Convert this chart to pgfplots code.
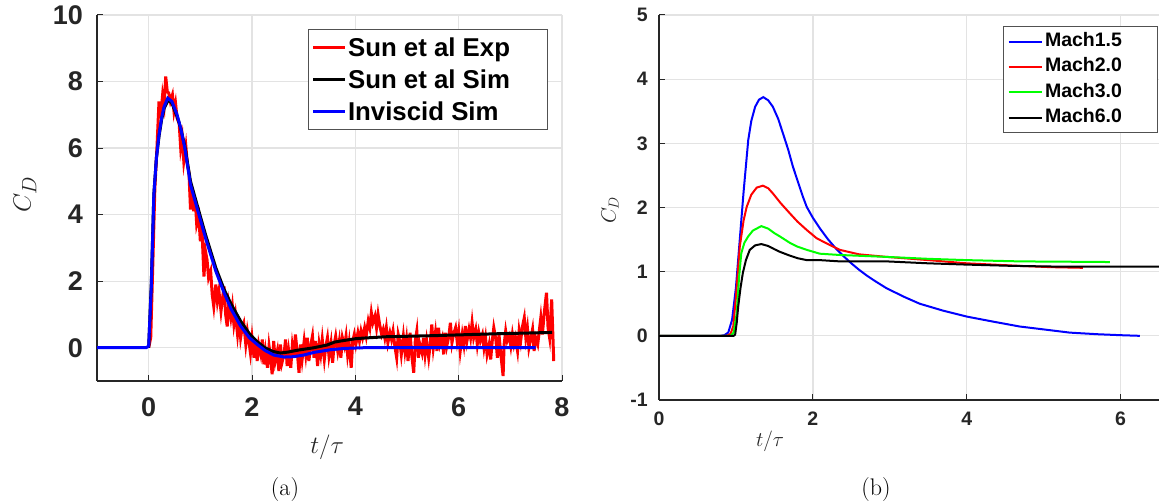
\documentclass[border=0pt]{standalone}
\usepackage{fontspec}
\usepackage{pgfplots}
\pgfplotsset{compat=1.18}
\newfontfamily\arial{Liberation Sans}
\definecolor{axgray}{HTML}{262626}
\definecolor{gridgray}{HTML}{E3E3E3}
\definecolor{lred}{RGB}{255,0,0}
\definecolor{lblue}{RGB}{0,0,255}
\definecolor{lgreen}{RGB}{0,255,0}

\pgfplotsset{
  mystyle/.style={
    scale only axis,
    axis x line*=bottom, axis y line*=left,
    axis line style={axgray, line width=1.2pt, -},
    tick align=inside,
    major tick length=6pt,
    tick style={axgray, line width=1pt},
    grid=major,
    major grid style={gridgray, line width=1.3pt},
    /pgf/number format/assume math mode=true,
    legend cell align=left,
  }
}

\begin{document}
\begin{tikzpicture}[x=1pt,y=1pt]
\useasboundingbox (0,0) rectangle (1159,502);

% ---------------- (a) ----------------
\begin{axis}[
  mystyle,
  at={(97pt,121pt)}, anchor=south west,
  width=465pt, height=366pt,
  xmin=-1, xmax=8, ymin=-1, ymax=10,
  xtick={0,2,4,6,8}, ytick={0,2,4,6,8,10},
  tick label style={font=\arial\bfseries\fontsize{27}{27}\selectfont, color=axgray},
  yticklabel style={inner sep=0pt, xshift=-14pt},
  xticklabel style={inner sep=0pt, yshift=-16pt},
  xlabel={$t/\tau$},
  ylabel={$C_D$},
  xlabel style={font=\fontsize{34}{34}\selectfont, color=axgray, at={(axis description cs:0.495,0)}, anchor=center, yshift=-66pt},
  ylabel style={font=\fontsize{30}{30}\selectfont, color=axgray, at={(axis description cs:-0.1548,0.51)}, anchor=center},
  legend style={at={(axis description cs:0.970,0.962)}, anchor=north east,
    draw=axgray!80, line width=1pt, fill=white,
    font=\arial\bfseries\fontsize{25.8}{28}\selectfont,
    row sep=6pt, inner xsep=3pt, inner ysep=5pt,
    nodes={inner xsep=1.5pt, inner ysep=0pt, text height=22pt, text depth=4pt}},
  legend image code/.code={\draw[#1, line width=3pt] (0pt,0pt) -- (32pt,0pt);},
]
\addplot[lred, line width=3pt] coordinates {
(0,0) (0.04,0.3) (0.08,2.5) (0.12,4.8) (0.16,6.0) (0.2,7.4) (0.23,6.9) (0.27,7.6) (0.3,7.3) (0.33,8.15)
(0.36,7.7) (0.39,7.65) (0.42,7.4) (0.46,7.6) (0.49,7.1) (0.52,7.35) (0.55,6.9) (0.59,6.75) (0.62,6.0) (0.65,6.3)
(0.68,5.6) (0.72,6.05) (0.75,5.5) (0.78,5.25) (0.81,4.15) (0.84,4.8) (0.87,4.1) (0.9,4.5) (0.93,3.7) (0.97,3.95)
(1.0,3.2) (1.03,3.6) (1.07,2.14) (1.1,2.9) (1.13,2.64) (1.16,2.1) (1.2,2.3) (1.23,1.6) (1.26,1.24) (1.3,1.9)
(1.33,1.4) (1.36,1.7) (1.4,1.1) (1.43,1.5) (1.46,1.84) (1.49,1.0) (1.52,0.64) (1.55,1.3) (1.59,0.9) (1.62,1.25)
(1.65,0.7) (1.68,1.0) (1.72,0.4) (1.75,0.85) (1.78,0.3) (1.81,0.6) (1.84,0.74) (1.88,0.1) (1.91,0.5) (1.94,0.2)
(1.97,-0.16) (2.0,0.3) (2.04,-0.3) (2.07,0.2) (2.1,-0.4) (2.13,0.1) (2.17,-0.2) (2.2,0.25) (2.23,-0.5) (2.26,-0.1)
(2.3,-0.6) (2.33,0.05) (2.36,-0.3) (2.39,-0.8) (2.42,0.2) (2.45,-0.4) (2.49,-0.1) (2.52,-0.7) (2.55,0.1) (2.58,-0.45)
(2.62,-0.2) (2.65,0.25) (2.68,-0.55) (2.71,-0.1) (2.75,-0.6) (2.78,0.05) (2.81,-0.3) (2.84,0.4) (2.88,-0.2) (2.91,-0.75)
(2.94,0.1) (2.97,-0.35) (3.01,0.2) (3.04,-0.2) (3.07,0.3) (3.1,-0.4) (3.14,0.1) (3.17,0.35) (3.2,-0.3) (3.23,0.2)
(3.27,-0.55) (3.3,0.1) (3.33,-0.2) (3.36,0.25) (3.4,-0.35) (3.43,0.05) (3.46,0.3) (3.49,-0.25) (3.53,0.15) (3.56,-0.45)
(3.59,0.1) (3.62,0.35) (3.66,-0.1) (3.69,0.2) (3.72,-0.3) (3.75,0.3) (3.79,0.05) (3.82,0.35) (3.85,-0.2) (3.88,0.15)
(3.92,-0.6) (3.95,0.2) (3.98,0.4) (4.01,0.1) (4.05,0.45) (4.08,0.2) (4.11,0.5) (4.14,0.3) (4.18,0.6) (4.21,0.35)
(4.25,0.8) (4.28,0.6) (4.31,1.05) (4.34,0.75) (4.38,0.95) (4.41,0.6) (4.44,1.0) (4.47,0.7) (4.51,0.4) (4.54,0.55)
(4.57,0.3) (4.6,0.6) (4.63,0.15) (4.67,0.45) (4.7,0.25) (4.73,0.5) (4.76,0.1) (4.8,-0.3) (4.83,0.4) (4.86,0.2)
(4.89,-0.2) (4.93,0.35) (4.96,-0.1) (4.99,0.25) (5.02,-0.4) (5.06,0.45) (5.09,-0.2) (5.13,-0.75) (5.16,0.2) (5.19,0.5)
(5.22,-0.3) (5.25,0.1) (5.29,-0.15) (5.32,0.3) (5.35,-0.2) (5.38,0.2) (5.42,-0.3) (5.45,0.1) (5.48,0.7) (5.51,0.0)
(5.55,0.45) (5.58,-0.1) (5.61,0.6) (5.64,0.1) (5.68,0.3) (5.71,-0.2) (5.74,0.45) (5.77,0.05) (5.81,0.35) (5.84,0.75)
(5.87,0.15) (5.9,0.4) (5.94,0.6) (5.97,0.2) (6.0,0.5) (6.03,-0.1) (6.07,0.4) (6.1,0.1) (6.13,0.65) (6.16,0.2)
(6.2,0.55) (6.23,0.3) (6.26,0.75) (6.29,0.3) (6.33,0.55) (6.36,0.1) (6.39,0.45) (6.42,0.2) (6.46,0.4) (6.49,0.0)
(6.52,0.3) (6.55,-0.2) (6.59,0.1) (6.62,-0.35) (6.65,0.2) (6.68,0.6) (6.72,0.25) (6.75,-0.3) (6.78,0.4) (6.81,-0.1)
(6.86,-0.85) (6.88,0.1) (6.91,0.5) (6.94,0.2) (6.98,0.35) (7.01,0.05) (7.04,0.4) (7.07,0.1) (7.1,0.3) (7.14,-0.1)
(7.17,0.5) (7.2,0.2) (7.23,0.6) (7.27,0.9) (7.3,0.3) (7.33,0.6) (7.36,0.0) (7.4,0.3) (7.43,0.55) (7.46,-0.1)
(7.49,0.3) (7.53,0.1) (7.56,0.5) (7.59,0.9) (7.62,0.4) (7.66,1.1) (7.7,1.65) (7.73,0.6) (7.76,0.3) (7.8,1.45) (7.84,-0.4)
};
\addlegendentry{Sun et al Exp\hspace*{33pt}}
\addplot[black, line width=3pt] coordinates {
(0,0) (0.05,1.9) (0.1,4.6) (0.15,5.7) (0.2,6.35) (0.25,6.85) (0.3,7.2) (0.38,7.45) (0.45,7.35) (0.55,6.95)
(0.62,6.6) (0.7,6.05) (0.81,5.0) (0.9,4.5) (1.0,3.95) (1.1,3.4) (1.2,2.9) (1.3,2.4) (1.46,1.75) (1.6,1.3)
(1.78,0.8) (1.95,0.42) (2.1,0.18) (2.25,0.0) (2.4,-0.11) (2.55,-0.16) (2.7,-0.13) (2.9,-0.07) (3.2,0.0) (3.45,0.08)
(3.6,0.17) (3.71,0.2) (4.0,0.27) (4.16,0.29) (4.6,0.33) (5.45,0.36) (6.1,0.39) (6.74,0.42) (7.3,0.44) (7.81,0.46)
};
\addlegendentry{Sun et al Sim}
\addplot[lblue, line width=3pt] coordinates {
(-1,0) (-0.05,0) (0,0.05) (0.05,1.8) (0.1,4.6) (0.15,5.7) (0.2,6.4) (0.25,6.9) (0.3,7.25) (0.37,7.5)
(0.45,7.4) (0.55,7.0) (0.62,6.6) (0.7,6.0) (0.81,4.9) (0.9,4.4) (1.0,3.85) (1.1,3.3) (1.2,2.8) (1.3,2.3)
(1.46,1.65) (1.6,1.15) (1.78,0.65) (1.95,0.3) (2.1,0.1) (2.25,-0.08) (2.42,-0.22) (2.62,-0.28) (2.8,-0.27) (3.0,-0.22)
(3.2,-0.14) (3.52,-0.06) (3.8,-0.02) (4.16,0) (7.49,0)
};
\addlegendentry{Inviscid Sim}
\end{axis}

% ---------------- (b) ----------------
\begin{axis}[
  mystyle,
  at={(659pt,102pt)}, anchor=south west,
  width=500pt, height=385pt,
  xmin=0, xmax=6.5, ymin=-1, ymax=5,
  xtick={0,2,4,6}, ytick={-1,0,1,2,3,4,5},
  tick label style={font=\arial\bfseries\fontsize{19.5}{19.5}\selectfont, color=axgray},
  yticklabel style={inner sep=0pt, xshift=-11pt},
  xticklabel style={inner sep=0pt, yshift=-12pt},
  xlabel={$t/\tau$},
  ylabel={$C_D$},
  xlabel style={font=\fontsize{20}{20}\selectfont, color=axgray, at={(axis description cs:0.222,0)}, anchor=center, yshift=-41pt},
  ylabel style={font=\fontsize{20}{20}\selectfont, color=axgray, at={(axis description cs:-0.098,0.4935)}, anchor=center},
  legend style={at={(axis description cs:0.998,0.971)}, anchor=north east,
    draw=axgray!80, line width=1pt, fill=white,
    font=\arial\bfseries\fontsize{19.5}{21}\selectfont,
    row sep=6.7pt, inner xsep=4pt, inner ysep=6pt,
    nodes={inner xsep=2.5pt, inner ysep=0pt, text height=14pt, text depth=4.5pt}},
  legend image code/.code={\draw[#1, line width=2pt] (0pt,0pt) -- (33pt,0pt);},
]
\addplot[lblue, line width=2pt] coordinates {
(0,0) (0.8,0) (0.85,0.01) (0.9,0.05) (0.95,0.25) (1.0,0.75) (1.05,1.5) (1.1,2.25) (1.16,3.05) (1.2,3.35)
(1.25,3.57) (1.3,3.68) (1.355,3.72) (1.42,3.67) (1.48,3.57) (1.55,3.38) (1.61,3.16) (1.68,2.9) (1.74,2.64) (1.82,2.35)
(1.87,2.17) (1.92,2.01) (2.0,1.84) (2.1,1.66) (2.2,1.50) (2.3,1.36) (2.4,1.24) (2.5,1.13) (2.6,1.03) (2.7,0.94)
(2.8,0.86) (2.96,0.74) (3.2,0.60) (3.39,0.50) (3.7,0.39) (4.0,0.30) (4.35,0.22) (4.69,0.145) (5.0,0.1) (5.34,0.05)
(5.7,0.025) (6.0,0.01) (6.25,0.0)
};
\addlegendentry{Mach1.5\hspace*{29pt}}
\addplot[lred, line width=2pt] coordinates {
(0,0) (0.88,0) (0.93,0.03) (0.965,0.15) (1.0,0.6) (1.05,1.39) (1.1,1.8) (1.14,2.01) (1.2,2.2) (1.27,2.31)
(1.35,2.34) (1.42,2.3) (1.48,2.22) (1.58,2.07) (1.7,1.91) (1.8,1.78) (1.92,1.65) (2.05,1.52) (2.18,1.44) (2.35,1.34)
(2.6,1.27) (2.96,1.23) (3.5,1.18) (4.0,1.13) (4.69,1.09) (5.1,1.07) (5.51,1.06)
};
\addlegendentry{Mach2.0}
\addplot[lgreen, line width=2pt] coordinates {
(0,0) (0.93,0) (0.97,0.05) (1.01,0.35) (1.04,0.9) (1.07,1.29) (1.11,1.45) (1.16,1.55) (1.22,1.64) (1.33,1.71)
(1.42,1.67) (1.5,1.6) (1.57,1.55) (1.7,1.45) (1.8,1.39) (1.92,1.34) (2.09,1.28) (2.35,1.26) (2.96,1.23) (3.5,1.2)
(4.0,1.18) (4.69,1.16) (5.3,1.155) (5.86,1.15)
};
\addlegendentry{Mach3.0}
\addplot[black, line width=2pt] coordinates {
(0,0) (0.97,0) (0.99,0.02) (1.01,0.2) (1.03,0.46) (1.06,0.75) (1.09,0.98) (1.13,1.18) (1.18,1.34) (1.25,1.41)
(1.33,1.43) (1.42,1.40) (1.5,1.35) (1.57,1.31) (1.7,1.25) (1.8,1.21) (1.92,1.18) (2.09,1.18) (2.35,1.16) (2.96,1.16)
(3.5,1.13) (4.0,1.11) (4.6,1.09) (5.12,1.08) (6.5,1.08)
};
\addlegendentry{Mach6.0}
\end{axis}

\node[font=\fontsize{24}{28}\selectfont] at (285,12) {(a)};
\node[font=\fontsize{24}{28}\selectfont] at (876,12) {(b)};
\end{tikzpicture}
\end{document}
